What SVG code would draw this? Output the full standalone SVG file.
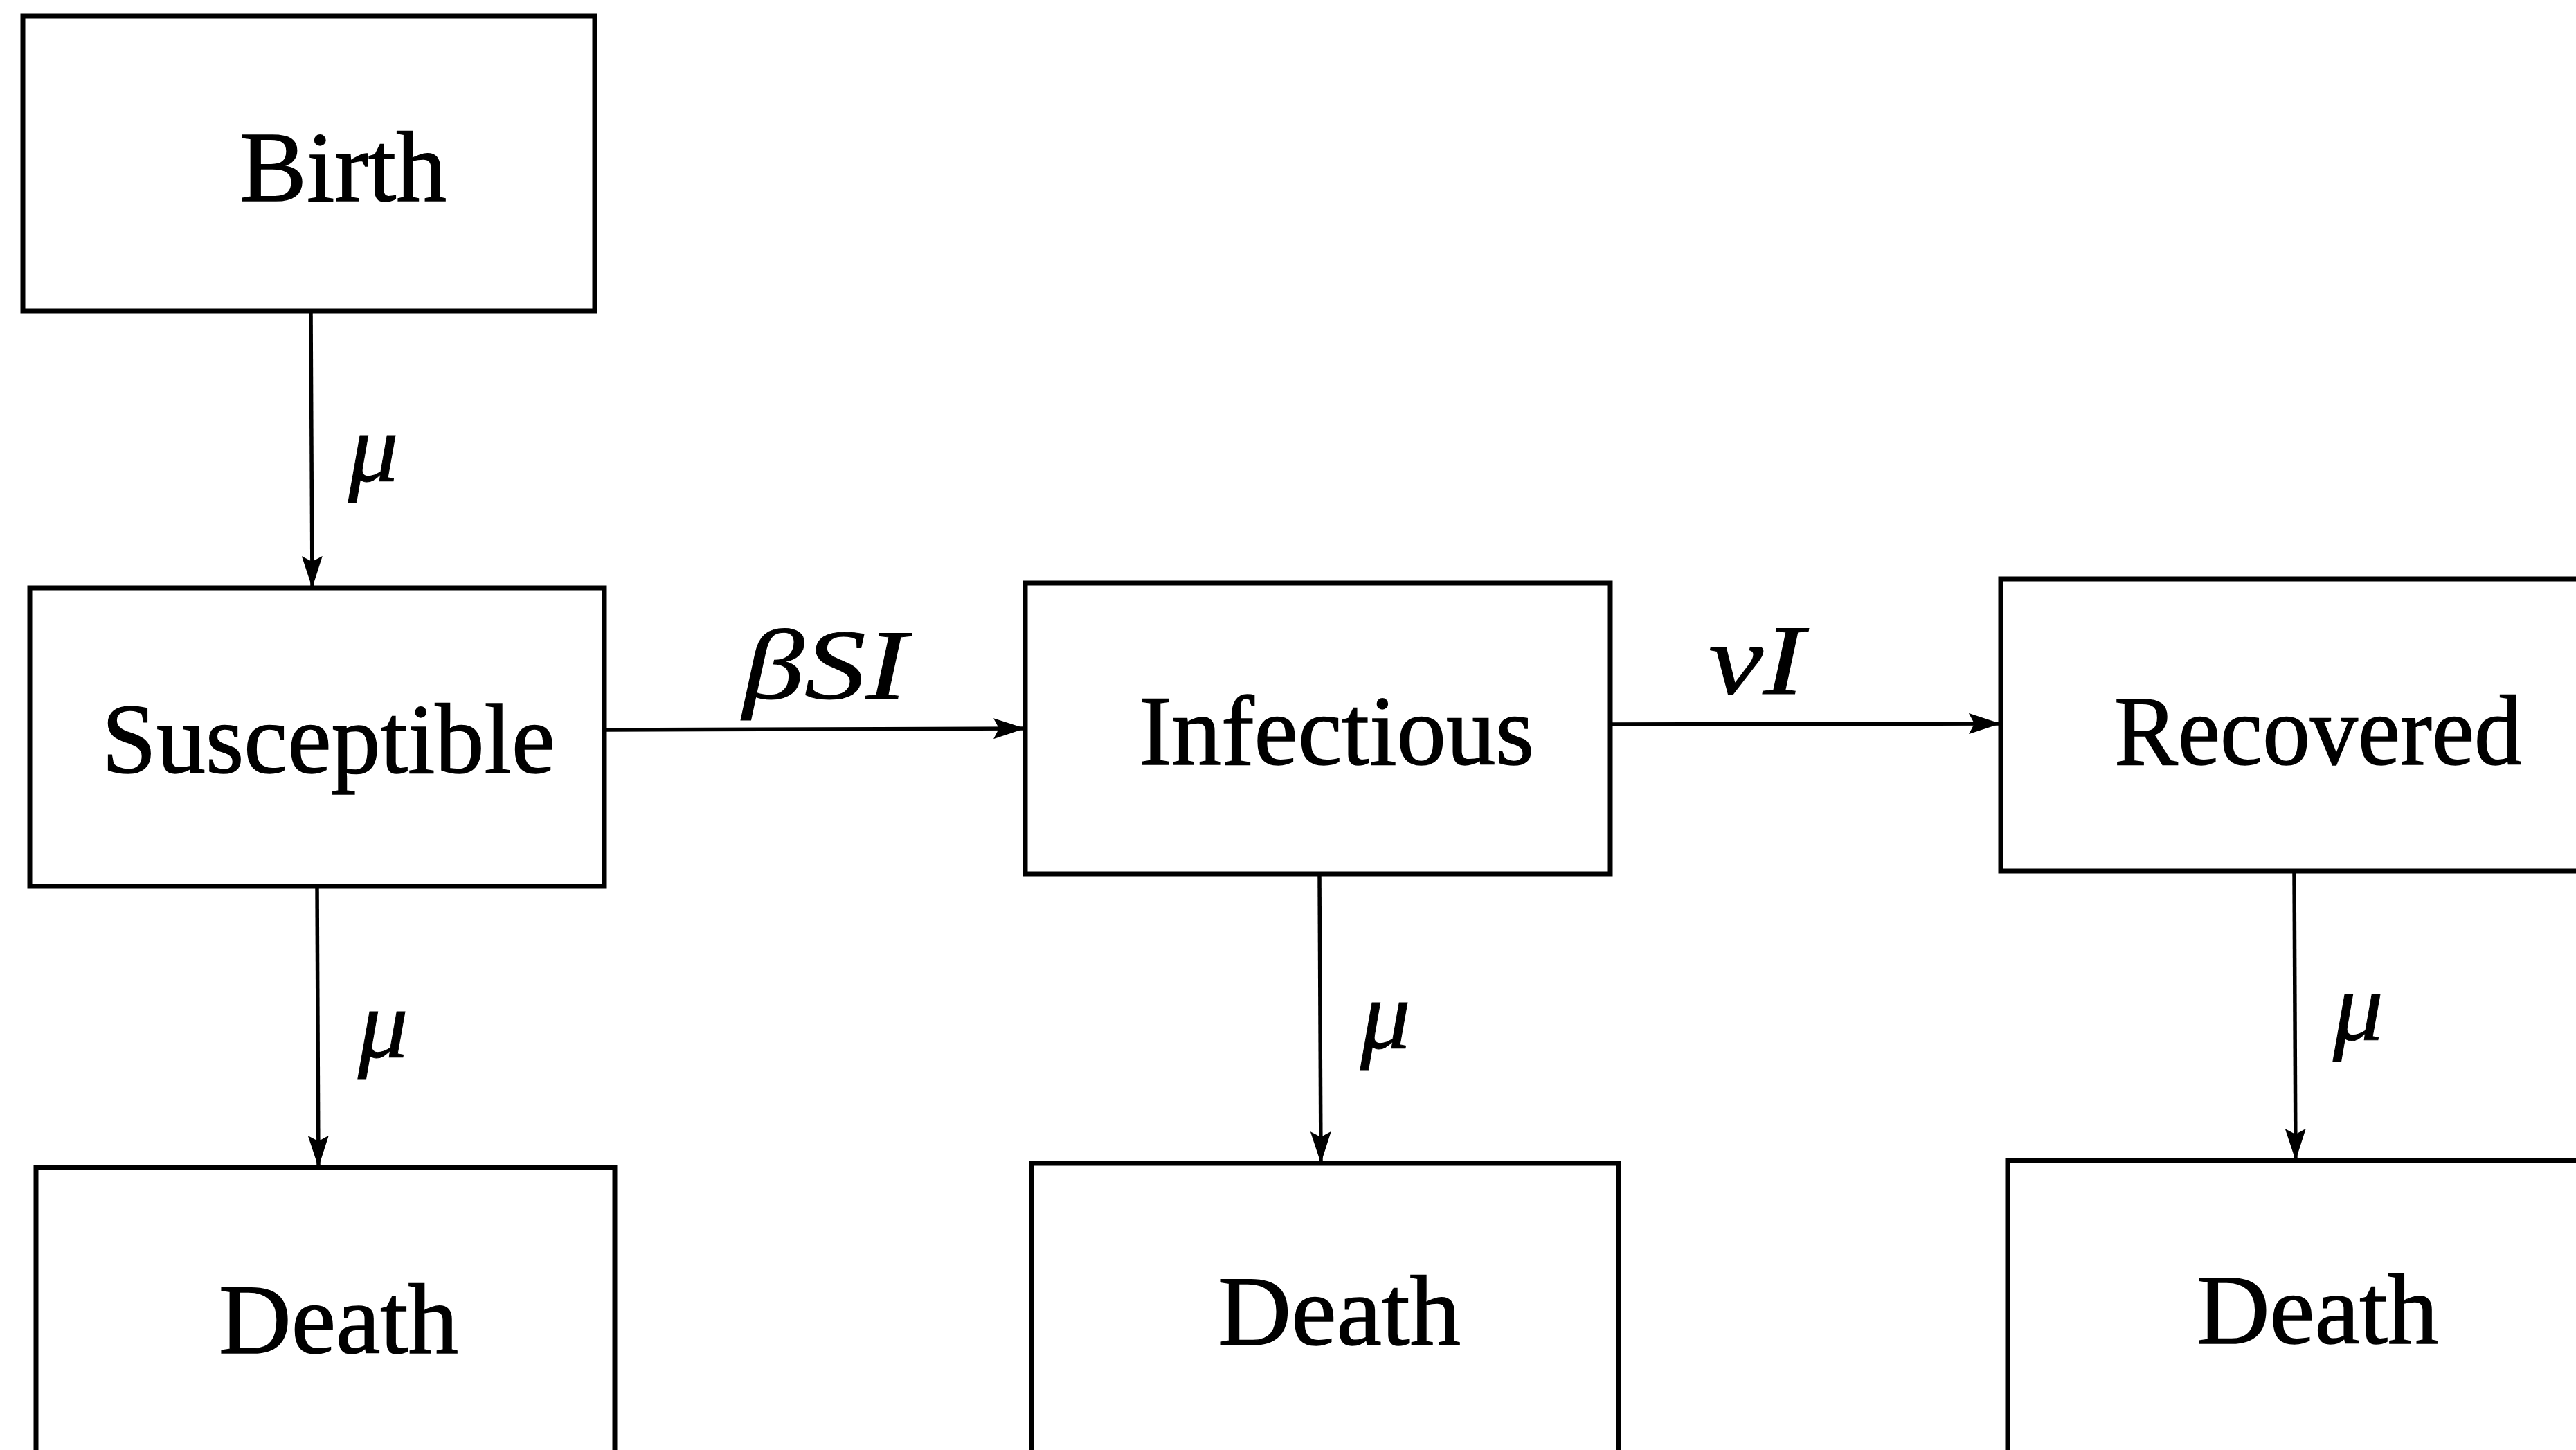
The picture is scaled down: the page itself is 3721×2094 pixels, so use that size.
<svg xmlns="http://www.w3.org/2000/svg" width="3721" height="2094" viewBox="0 0 3721 2094">
<style>
.box{fill:#fff;stroke:#000;stroke-width:7}
.lbl{font-family:"Liberation Serif","Times New Roman",serif;font-size:143px;fill:#000;stroke:#000;stroke-width:1.5}
.math{font-family:"Liberation Serif","Times New Roman",serif;font-size:145px;font-style:italic;fill:#000;stroke:#000;stroke-width:1}
.conn{stroke:#000;stroke-width:5.5;fill:none;marker-end:url(#ah)}
</style>
<defs>
<marker id="ah" viewBox="0 0 46 30" refX="46" refY="15" markerWidth="46" markerHeight="30" markerUnits="userSpaceOnUse" orient="auto">
<path d="M0,0 L46,15 L0,30 L8,15 z" fill="#000"/>
</marker>
</defs>
<rect width="3721" height="2094" fill="#fff"/>
<g id="birth"><rect class="box" x="33" y="23" width="826" height="426"/><text class="lbl" x="346" y="290" textLength="299" lengthAdjust="spacingAndGlyphs">Birth</text></g>
<g id="susceptible"><rect class="box" x="43" y="849" width="830" height="431"/><text class="lbl" x="147" y="1116" textLength="655" lengthAdjust="spacingAndGlyphs">Susceptible</text></g>
<g id="infectious"><rect class="box" x="1481" y="842" width="845" height="420"/><text class="lbl" x="1645" y="1104" textLength="571" lengthAdjust="spacingAndGlyphs">Infectious</text></g>
<g id="recovered"><rect class="box" x="2890" y="836" width="900" height="422"/><text class="lbl" x="3054" y="1104" textLength="589" lengthAdjust="spacingAndGlyphs">Recovered</text></g>
<g id="death1"><rect class="box" x="52" y="1686" width="836" height="500"/><text class="lbl" x="316" y="1954" textLength="346" lengthAdjust="spacingAndGlyphs">Death</text></g>
<g id="death2"><rect class="box" x="1490" y="1680" width="848" height="500"/><text class="lbl" x="1759" y="1942" textLength="351" lengthAdjust="spacingAndGlyphs">Death</text></g>
<g id="death3"><rect class="box" x="2900" y="1676" width="900" height="500"/><text class="lbl" x="3173" y="1940" textLength="349" lengthAdjust="spacingAndGlyphs">Death</text></g>
<g id="connectors">
<line class="conn" x1="449" y1="449" x2="451" y2="849"/>
<line class="conn" x1="873" y1="1054" x2="1481" y2="1052"/>
<line class="conn" x1="2326" y1="1046" x2="2890" y2="1045"/>
<line class="conn" x1="458" y1="1280" x2="460" y2="1686"/>
<line class="conn" x1="1906" y1="1262" x2="1908" y2="1680"/>
<line class="conn" x1="3314" y1="1258" x2="3316" y2="1676"/>
<text class="math" x="503" y="695">μ</text>
<text class="math" x="517" y="1527">μ</text>
<text class="math" x="1965" y="1514">μ</text>
<text class="math" x="3370" y="1502">μ</text>
<text class="math" x="1073" y="1009" textLength="237" lengthAdjust="spacingAndGlyphs">βSI</text>
<text class="math" x="2468" y="1002" textLength="138" lengthAdjust="spacingAndGlyphs">νI</text>
</g>
</svg>
